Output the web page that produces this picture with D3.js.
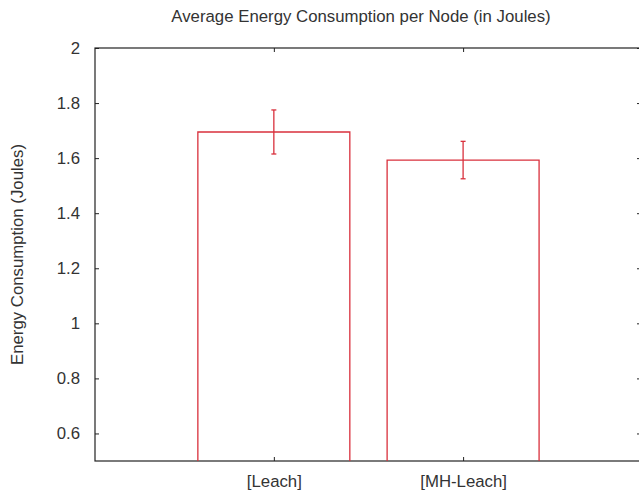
<!DOCTYPE html>
<html>
<head>
<meta charset="utf-8">
<script src="https://cdn.jsdelivr.net/npm/d3@7"></script>
<style>
  html, body { margin: 0; padding: 0; background: #fff; }
  svg { display: block; font-family: "Liberation Sans", Arial, sans-serif; }
</style>
</head>
<body>
<svg id="chart" width="639" height="493"></svg>
<script>
// Average energy per node and its spread for each protocol
const categories = ["[Leach]", "[MH-Leach]"];
const energyMean = [1.695, 1.593];
const energyErr = [0.080, 0.068];
const yTicks = [0.6, 0.8, 1, 1.2, 1.4, 1.6, 1.8, 2];

(function () {
const svg = d3.select("#chart");
const plotLeft = 95, plotRight = 641, plotTop = 48, plotBottom = 461;
const axisColor = "#222";
const textColor = "#333";
const barColor = "#d9303c";
const fontSize = 16.8;

const y = d3.scaleLinear().domain([0.5, 2]).range([plotBottom, plotTop]);
const x = d3.scaleLinear().domain([-0.945, 1.94]).range([plotLeft, plotRight]);
const barWidth = 0.803; // in category units

// frame
svg.append("rect")
  .attr("x", plotLeft).attr("y", plotTop)
  .attr("width", plotRight - plotLeft).attr("height", plotBottom - plotTop)
  .attr("fill", "none").attr("stroke", axisColor).attr("stroke-width", 1.2);

// y axis ticks & labels (left), mirrored ticks on the right
const yAxis = d3.axisLeft(y).tickValues(yTicks).tickSize(-4).tickPadding(15)
  .tickFormat(d => d3.format("")(d));
const gy = svg.append("g").attr("transform", `translate(${plotLeft},0)`).call(yAxis);
gy.select(".domain").remove();
gy.selectAll("line").attr("stroke", axisColor);
gy.selectAll("text").attr("fill", textColor).attr("font-size", fontSize)
  .attr("font-family", "Liberation Sans, Arial, sans-serif");

const gyR = svg.append("g").attr("transform", `translate(${plotRight},0)`)
  .call(d3.axisRight(y).tickValues(yTicks).tickSize(-4).tickFormat(""));
gyR.select(".domain").remove();
gyR.selectAll("line").attr("stroke", axisColor);

// x axis ticks & labels, mirrored on top
const xAxis = d3.axisBottom(x).tickValues(d3.range(categories.length))
  .tickSize(-4).tickPadding(14).tickFormat(i => categories[i]);
const gx = svg.append("g").attr("transform", `translate(0,${plotBottom})`).call(xAxis);
gx.select(".domain").remove();
gx.selectAll("line").attr("stroke", axisColor);
gx.selectAll("text").attr("fill", textColor).attr("font-size", fontSize)
  .attr("font-family", "Liberation Sans, Arial, sans-serif");

const gxT = svg.append("g").attr("transform", `translate(0,${plotTop})`)
  .call(d3.axisTop(x).tickValues(d3.range(categories.length)).tickSize(-4).tickFormat(""));
gxT.select(".domain").remove();
gxT.selectAll("line").attr("stroke", axisColor);

// bars (open boxes, clipped by the bottom axis)
svg.append("g").selectAll("path.bar")
  .data(energyMean)
  .join("path")
  .attr("class", "bar")
  .attr("d", (d, i) => {
    const x0 = x(i - barWidth / 2), x1 = x(i + barWidth / 2);
    const yt = y(d), yb = y(0.5);
    return `M${x0},${yb}V${yt}H${x1}V${yb}`;
  })
  .attr("fill", "none").attr("stroke", barColor).attr("stroke-width", 1.3);

// error bars
const cap = 2.5;
const errs = svg.append("g").attr("stroke", barColor).attr("stroke-width", 1.3);
energyMean.forEach((m, i) => {
  const cx = x(i), hi = y(m + energyErr[i]), lo = y(m - energyErr[i]);
  errs.append("line").attr("x1", cx).attr("x2", cx).attr("y1", hi).attr("y2", lo);
  errs.append("line").attr("x1", cx - cap).attr("x2", cx + cap).attr("y1", hi).attr("y2", hi);
  errs.append("line").attr("x1", cx - cap).attr("x2", cx + cap).attr("y1", lo).attr("y2", lo);
});

// title
svg.append("text")
  .attr("x", 361).attr("y", 22)
  .attr("text-anchor", "middle")
  .attr("font-size", fontSize).attr("fill", textColor)
  .text("Average Energy Consumption per Node (in Joules)");

// y axis title
svg.append("text")
  .attr("transform", `translate(23,${(plotTop + plotBottom) / 2}) rotate(-90)`)
  .attr("text-anchor", "middle")
  .attr("font-size", fontSize).attr("fill", textColor)
  .text("Energy Consumption (Joules)");
})();
</script>
</body>
</html>
